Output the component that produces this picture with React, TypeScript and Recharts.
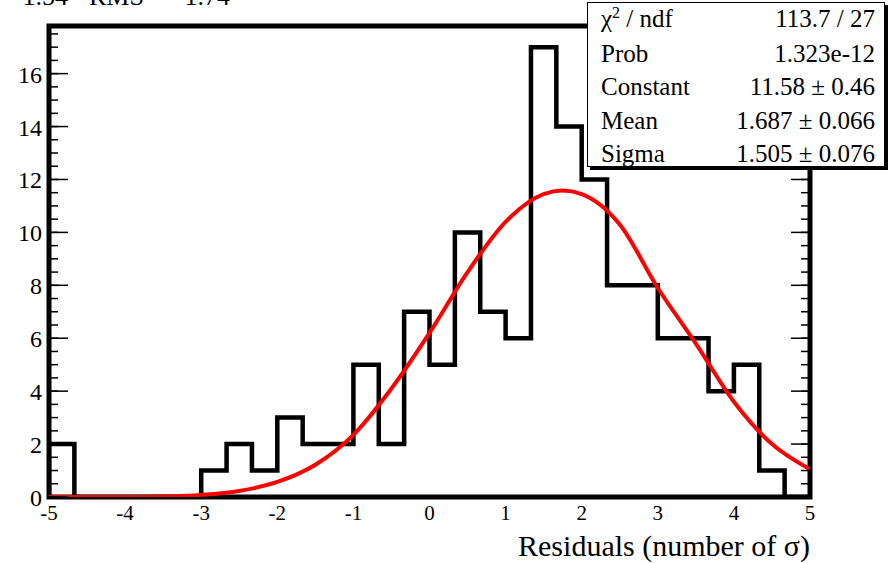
import React from 'react';
import { ComposedChart, Line, XAxis, YAxis, ReferenceArea } from 'recharts';

// histogram: 30 bins between -5 and 5
const binCounts = [2, 0, 0, 0, 0, 0, 1, 2, 1, 3, 2, 2, 5, 2, 7, 5, 10, 7, 6, 17, 14, 12, 8, 8, 6, 6, 4, 5, 1, 0];
const xRange = [-5, 5];
const yRange = [0, 17.8];
const xTicks = [-5, -4, -3, -2, -1, 0, 1, 2, 3, 4, 5];
const yTicks = [0, 2, 4, 6, 8, 10, 12, 14, 16];

// gaussian fit curve
const fitX = [-5, -4, -3.5, -3, -2.5, -2, -1.5, -1, -0.5, 0, 0.5, 1, 1.5, 1.75, 2, 2.5, 3, 3.5, 4, 4.5, 5];
const fitY = [0, 0, 0.02, 0.08, 0.23, 0.57, 1.22, 2.35, 4.1, 6.2, 8.5, 10.4, 11.45, 11.58, 11.45, 10.3, 7.9, 5.8, 3.6, 2.0, 1.05];

const statsLabels = ['Prob', 'Constant', 'Mean', 'Sigma'];
const statsValues = ['1.323e-12', '11.58 \u00b1 0.46', '1.687 \u00b1 0.066', '1.505 \u00b1 0.076'];
const chiValue = '113.7 / 27';

const binWidth = (xRange[1] - xRange[0]) / binCounts.length;
const histData = [
  { x: xRange[0], y: 0 },
  ...binCounts.map((c, i) => ({ x: xRange[0] + i * binWidth, y: c })),
  { x: xRange[1], y: binCounts[binCounts.length - 1] },
  { x: xRange[1], y: 0 },
];
const fitData = fitX.map((x, i) => ({ x, y: fitY[i] }));

const xMinor: number[] = [];
for (let i = 0; i <= 50; i++) xMinor.push(Math.round((-5 + i * 0.2) * 1000) / 1000);
const yMinor: number[] = [];
for (let i = 0; i <= 35; i++) yMinor.push(i * 0.5);

const FONT = '"Liberation Serif", "Times New Roman", serif';
const tl = { stroke: '#000', strokeWidth: 1.5 };
const T = 0.01;
const Empty = () => <g />;

const xLabel = (p: any) => (
  <text key={'xl' + p.index} x={p.x} y={p.y} dy={15} textAnchor="middle"
    style={{ fontFamily: FONT, fontSize: '21px', fill: '#000' }}>{p.payload.value}</text>
);
const yLabel = (p: any) => (
  <text key={'yl' + p.index} x={p.x - 1} y={p.y} dy={9} textAnchor="end"
    style={{ fontFamily: FONT, fontSize: '24px', fill: '#000' }}>{p.payload.value}</text>
);

export default function App() {
  const common = { type: 'number' as const, allowDataOverflow: true, interval: 0 as const };
  return (
    <div style={{ position: 'absolute', left: 0, top: 0, width: 893, height: 563, background: '#fff', overflow: 'hidden', fontFamily: FONT }}>
      <ComposedChart width={893} height={563} margin={{ top: 26, right: 83, bottom: 66, left: 49 }}>
        {/* labels */}
        <XAxis xAxisId="x" dataKey="x" {...common} domain={xRange} ticks={xTicks} height={T}
          axisLine={false} tickLine={false} tickSize={6} tickMargin={2}
          tick={xLabel} />
        <YAxis yAxisId="y" {...common} domain={yRange} ticks={yTicks} width={T}
          axisLine={false} tickLine={false} tickSize={6} tickMargin={0}
          tick={yLabel} />
        {/* bottom ticks */}
        <XAxis xAxisId="xb1" {...common} domain={xRange} ticks={xTicks} height={T} mirror axisLine={false} tickSize={15} tick={<Empty />} tickLine={tl} />
        <XAxis xAxisId="xb2" {...common} domain={xRange} ticks={xMinor} height={T} mirror axisLine={false} tickSize={8} tick={<Empty />} tickLine={tl} />
        {/* top ticks */}
        <XAxis xAxisId="xt1" orientation="top" {...common} domain={xRange} ticks={xTicks} height={T} mirror axisLine={false} tickSize={13} tick={<Empty />} tickLine={tl} />
        <XAxis xAxisId="xt2" orientation="top" {...common} domain={xRange} ticks={xMinor} height={T} mirror axisLine={false} tickSize={6} tick={<Empty />} tickLine={tl} />
        {/* left ticks */}
        <YAxis yAxisId="yl1" {...common} domain={yRange} ticks={yTicks} width={T} mirror axisLine={false} tickSize={19} tick={<Empty />} tickLine={tl} />
        <YAxis yAxisId="yl2" {...common} domain={yRange} ticks={yMinor} width={T} mirror axisLine={false} tickSize={9} tick={<Empty />} tickLine={tl} />
        {/* right ticks */}
        <YAxis yAxisId="yr1" orientation="right" {...common} domain={yRange} ticks={yTicks} width={T} mirror axisLine={false} tickSize={19} tick={<Empty />} tickLine={tl} />
        <YAxis yAxisId="yr2" orientation="right" {...common} domain={yRange} ticks={yMinor} width={T} mirror axisLine={false} tickSize={9} tick={<Empty />} tickLine={tl} />

        <Line xAxisId="x" yAxisId="y" data={histData} dataKey="y" type="stepAfter" stroke="#000" strokeWidth={4.5}
          dot={false} activeDot={false} isAnimationActive={false} strokeLinejoin="miter" />
        <Line xAxisId="x" yAxisId="y" data={fitData} dataKey="y" type="monotone" stroke="#ff0000" strokeWidth={4}
          dot={false} activeDot={false} isAnimationActive={false} />
        <ReferenceArea xAxisId="x" yAxisId="y" x1={xRange[0]} x2={xRange[1]} y1={yRange[0]} y2={yRange[1]}
          fill="none" fillOpacity={0} stroke="#000" strokeWidth={5} ifOverflow="visible" />
      </ComposedChart>
      <svg width={893} height={563} style={{ position: 'absolute', left: 0, top: 0, pointerEvents: 'none' }}>
        <g fontFamily={FONT} fill="#000">
          <text x={68} y={5} fontSize={26} textAnchor="end">Mean  =  1.54</text>
          <text x={89} y={5} fontSize={26}>RMS</text>
          <text x={230} y={5} fontSize={26} textAnchor="end">=  1.74</text>
        </g>
        <rect x={590} y={5} width={298} height={165} fill="#000" />
        <rect x={587.5} y={2.5} width={297} height={164} fill="#fff" stroke="#000" strokeWidth={1} />
        <g fontFamily={FONT} fontSize={25} fill="#000">
          <text x={601} y={27}>
            {'\u03c7'}
            <tspan fontSize={16} dy={-9}>2</tspan>
            <tspan dy={9}>{' / ndf'}</tspan>
          </text>
          <text x={875} y={27} textAnchor="end">{chiValue}</text>
          {statsLabels.map((l, i) => (
            <text key={l} x={601} y={62 + i * 33.3}>{l}</text>
          ))}
          {statsValues.map((v, i) => (
            <text key={i} x={875} y={62 + i * 33.3} textAnchor="end">{v}</text>
          ))}
        </g>
        <text x={810} y={556} fontFamily={FONT} fontSize={30} textAnchor="end" fill="#000">Residuals (number of {'\u03c3'})</text>
      </svg>
    </div>
  );
}
